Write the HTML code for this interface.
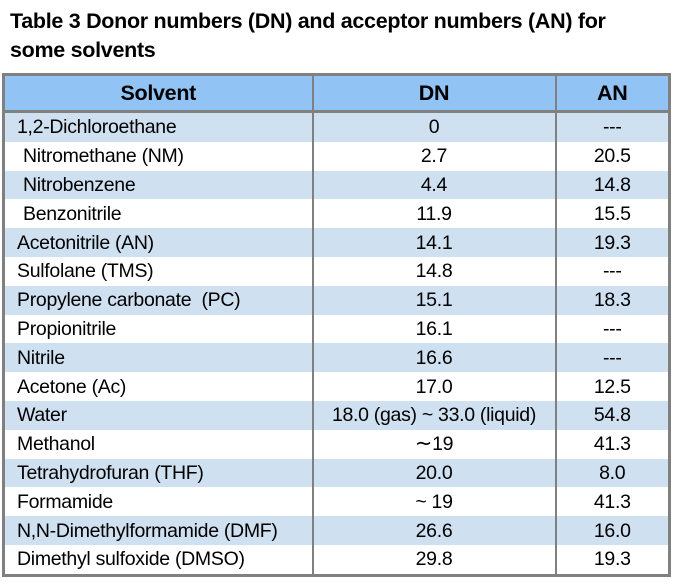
<!DOCTYPE html>
<html><head><style>
body{margin:0;width:673px;height:585px;background:#fff;font-family:"Liberation Sans",sans-serif;overflow:hidden;position:relative}
.t{position:absolute;left:10px;top:7px;font-weight:bold;font-size:21.5px;line-height:29px;color:#000;letter-spacing:-0.3px}
table{position:absolute;left:2px;top:73px;width:669px;border-collapse:collapse;border:3px solid #808080;font-size:19.5px;letter-spacing:-0.3px}
td,th{padding:0;height:28.8px;line-height:20px;border-left:2px solid #808080;border-right:2px solid #808080}
th{background:#91c3f4;height:34px;font-size:21.5px;border-bottom:3px solid #808080}
tr:nth-child(even) td{background:#cfe0f1}
td:first-child{padding-left:12px}
td:nth-child(2),td:nth-child(3){text-align:center}
.i{padding-left:18px!important}
</style></head><body>
<div class="t">Table 3 Donor numbers (DN) and acceptor numbers (AN) for<br>some solvents</div>
<table>
<colgroup><col style="width:309px"><col style="width:243px"><col></colgroup>
<tr><th>Solvent</th><th>DN</th><th>AN</th></tr>
<tr><td style="height:24px">1,2-Dichloroethane</td><td>0</td><td>---</td></tr>
<tr><td class="i">Nitromethane (NM)</td><td>2.7</td><td>20.5</td></tr>
<tr><td class="i">Nitrobenzene</td><td>4.4</td><td>14.8</td></tr>
<tr><td class="i">Benzonitrile</td><td>11.9</td><td>15.5</td></tr>
<tr><td>Acetonitrile (AN)</td><td>14.1</td><td>19.3</td></tr>
<tr><td>Sulfolane (TMS)</td><td>14.8</td><td>---</td></tr>
<tr><td>Propylene carbonate&nbsp; (PC)</td><td>15.1</td><td>18.3</td></tr>
<tr><td>Propionitrile</td><td>16.1</td><td>---</td></tr>
<tr><td>Nitrile</td><td>16.6</td><td>---</td></tr>
<tr><td>Acetone (Ac)</td><td>17.0</td><td>12.5</td></tr>
<tr><td>Water</td><td>18.0 (gas) ~ 33.0 (liquid)</td><td>54.8</td></tr>
<tr><td>Methanol</td><td><span style="font-size:21px">∼</span>19</td><td>41.3</td></tr>
<tr><td>Tetrahydrofuran (THF)</td><td>20.0</td><td>8.0</td></tr>
<tr><td>Formamide</td><td>~ 19</td><td>41.3</td></tr>
<tr><td>N,N-Dimethylformamide (DMF)</td><td>26.6</td><td>16.0</td></tr>
<tr><td>Dimethyl sulfoxide (DMSO)</td><td>29.8</td><td>19.3</td></tr>
</table>
</body></html>
